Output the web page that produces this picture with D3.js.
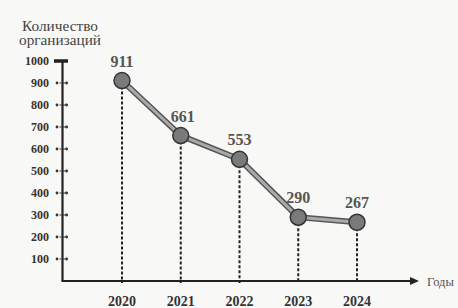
<!DOCTYPE html>
<html><head><meta charset="utf-8">
<script src="https://cdn.jsdelivr.net/npm/d3@7"></script>
<style>body{margin:0;background:#f8f8f6}svg{display:block}</style>
</head><body>
<svg id="c" width="458" height="308"></svg>
<script>
const years = ["2020","2021","2022","2023","2024"];
const values = [911, 661, 553, 290, 267];
const yTicks = [100,200,300,400,500,600,700,800,900,1000];
const yTitle = ["Количество", "организаций"];
const xTitle = "Годы";

const svg = d3.select("#c");
const x = d3.scalePoint().domain(years).range([122, 357]);
const y = d3.scaleLinear().domain([0, 1000]).range([281, 61]);
const serif = "'Liberation Serif','DejaVu Serif',serif";

const g = svg.append("g");
g.append("line").attr("x1", 62.5).attr("x2", 62.5).attr("y1", y(1000)).attr("y2", y(0))
  .attr("stroke", "#222").attr("stroke-width", 2.2);
g.append("line").attr("x1", 61.5).attr("x2", 412).attr("y1", y(0)).attr("y2", y(0))
  .attr("stroke", "#222").attr("stroke-width", 2.2);
g.append("path").attr("d", `M419,${y(0)} L410,${y(0)-4} L410,${y(0)+4} Z`).attr("fill", "#222");
g.append("line").attr("x1", 54).attr("x2", 68).attr("y1", y(1000)).attr("y2", y(1000))
  .attr("stroke", "#222").attr("stroke-width", 3.5);

yTicks.forEach(t => {
  if (t < 1000) {
    g.append("line").attr("x1", 56).attr("x2", 68).attr("y1", y(t)).attr("y2", y(t))
      .attr("stroke", "#333").attr("stroke-width", 1.2).attr("stroke-dasharray", "2,1.5");
    [57, 66.5].forEach(cx => g.append("circle").attr("cx", cx).attr("cy", y(t)).attr("r", 1.4).attr("fill", "#333"));
  }
  g.append("text").attr("x", 49).attr("y", y(t) + 4).attr("text-anchor", "end")
    .attr("font-family", serif).attr("font-weight", "bold").attr("font-size", 12)
    .attr("fill", "#333").text(t);
});

const titleLens = [76, 82];
yTitle.forEach((s, i) => {
  g.append("text").attr("x", 60).attr("y", 31 + i * 14).attr("text-anchor", "middle")
    .attr("font-family", serif).attr("font-size", 14).attr("fill", "#444")
    .attr("textLength", titleLens[i]).attr("lengthAdjust", "spacingAndGlyphs").text(s);
});
g.append("text").attr("x", 427).attr("y", y(0) + 5).attr("font-family", serif)
  .attr("font-size", 12.5).attr("fill", "#555").text(xTitle);

years.forEach((yr, i) => {
  g.append("line").attr("x1", x(yr)).attr("x2", x(yr)).attr("y1", y(values[i]) + 6).attr("y2", y(0) + 2)
    .attr("stroke", "#222").attr("stroke-width", 2).attr("stroke-dasharray", "3,2");
  g.append("text").attr("x", x(yr)).attr("y", 306).attr("text-anchor", "middle")
    .attr("font-family", serif).attr("font-weight", "bold").attr("font-size", 14)
    .attr("fill", "#333").text(yr);
});

const line = d3.line().x((d, i) => x(years[i])).y(d => y(d));
g.append("path").datum(values).attr("d", line).attr("fill", "none")
  .attr("stroke", "#555").attr("stroke-width", 6);
g.append("path").datum(values).attr("d", line).attr("fill", "none")
  .attr("stroke", "#aaa").attr("stroke-width", 3);

values.forEach((v, i) => {
  g.append("circle").attr("cx", x(years[i])).attr("cy", y(v)).attr("r", 8)
    .attr("fill", "#7a7a7a").attr("stroke", "#333").attr("stroke-width", 1.5);
  g.append("text").attr("x", x(years[i]) + (i === 1 ? 2 : 0)).attr("y", y(v) - 14)
    .attr("text-anchor", "middle").attr("font-family", serif).attr("font-weight", "bold")
    .attr("font-size", 16).attr("fill", "#555").text(v);
});
</script>
</body></html>
